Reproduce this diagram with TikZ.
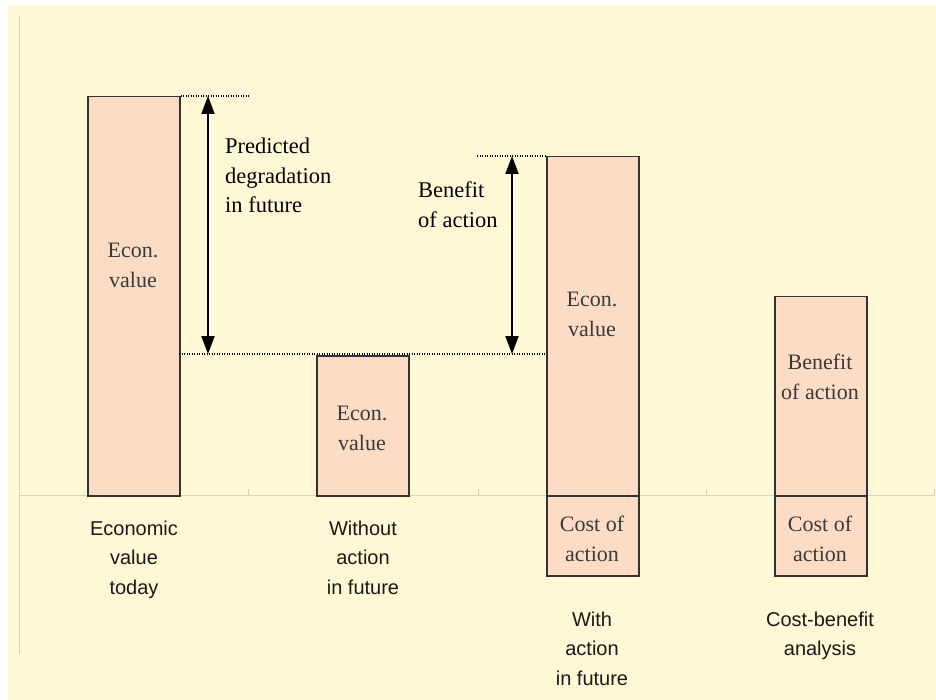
\documentclass[tikz,border=0pt]{standalone}
\usepackage{fontspec}
\setmainfont{Liberation Serif}
\setsansfont{Liberation Sans}
\usetikzlibrary{arrows.meta}
\definecolor{bgyellow}{HTML}{FFF9D6}
\definecolor{peach}{HTML}{FCDCC5}
\definecolor{barline}{HTML}{333333}
\definecolor{axisgray}{HTML}{D6D2BE}
\definecolor{boxtext}{HTML}{3A3A3A}
\tikzset{
  bar/.style={draw=barline, fill=peach, line width=1.5pt, inner sep=0pt, anchor=north west},
  axisline/.style={draw=axisgray, line width=1pt},
  dotline/.style={draw=black, line width=1.2pt, dash pattern=on 1.2pt off 1.3pt},
  dblarrow/.style={draw=black, line width=2pt, {Triangle[length=18pt,width=13pt]}-{Triangle[length=18pt,width=13pt]}},
  boxtxt/.style={font=\fontsize{22}{29.5}\selectfont, text=boxtext, align=center, inner sep=0pt, anchor=north},
  notetxt/.style={font=\fontsize{22.5}{29.5}\selectfont, text=black, align=left, inner sep=0pt, anchor=north west},
  cattxt/.style={font=\sffamily\fontsize{20}{29.5}\selectfont, text=black!90, align=center, inner sep=0pt, anchor=north}
}
\begin{document}
\begin{tikzpicture}[x=1pt, y=-1pt]
  % page and background
  \fill[white] (0,0) rectangle (936,700);
  \useasboundingbox (0,0) rectangle (936,700);
  \fill[bgyellow] (8,5) rectangle (936,700);
  % axes
  \coordinate (ytop) at (19.5,16);
  \coordinate (ybot) at (19.5,654);
  \coordinate (xl) at (19,495);
  \coordinate (xr) at (935,495);
  \path[axisline] (ytop) -- (ybot);
  \path[axisline] (xl) -- (xr);
  \foreach \tx [count=\i] in {248,478,706,934} {
    \coordinate (tk\i a) at (\tx,495);
    \coordinate (tk\i b) at (\tx,489);
    \path[axisline] (tk\i a) -- (tk\i b);
  }
  % bars
  \node[bar, minimum width=92pt, minimum height=399pt] (b1) at (87,96) {};
  \node[bar, minimum width=92pt, minimum height=140pt] (b2) at (316,355) {};
  \node[bar, minimum width=92pt, minimum height=339pt] (b3) at (546,156) {};
  \node[bar, minimum width=92pt, minimum height=80pt] (b3c) at (546,495) {};
  \node[bar, minimum width=92pt, minimum height=199pt] (b4) at (774,296) {};
  \node[bar, minimum width=92pt, minimum height=80pt] (b4c) at (774,495) {};
  % dotted guide lines
  \coordinate (d1e) at (250,96);
  \coordinate (d2s) at (179,354);
  \coordinate (d2e) at (546,354);
  \coordinate (d3s) at (477,156);
  \path[dotline] (b1.north east) -- (d1e);
  \path[dotline] (d2s) -- (d2e);
  \path[dotline] (d3s) -- (b3.north west);
  % double arrows
  \coordinate (a1t) at (208,96);
  \coordinate (a1b) at (208,354);
  \coordinate (a2t) at (512,156);
  \coordinate (a2b) at (512,354);
  \path[dblarrow] (a1t) -- (a1b);
  \path[dblarrow] (a2t) -- (a2b);
  % annotations
  \node[notetxt] (n1) at (225,133) {\strut Predicted\\degradation\\in future};
  \node[notetxt] (n2) at (418,177) {\strut Benefit\\of action};
  % texts in bars
  \node[boxtxt] (t1) at (133,237) {\strut Econ.\\value};
  \node[boxtxt] (t2) at (362,400) {\strut Econ.\\value};
  \node[boxtxt] (t3) at (592,286) {\strut Econ.\\value};
  \node[boxtxt] (t3c) at (592,511) {\strut Cost of\\action};
  \node[boxtxt] (t4) at (820,349) {\strut Benefit\\of action};
  \node[boxtxt] (t4c) at (820,511) {\strut Cost of\\action};
  % category labels
  \node[cattxt] (c1) at (134,514.5) {\strut Economic\\value\\today};
  \node[cattxt] (c2) at (363,514.5) {\strut Without\\action\\in future};
  \node[cattxt] (c3) at (592,605.5) {\strut With\\action\\in future};
  \node[cattxt] (c4) at (820,605.5) {\strut Cost-benefit\\analysis};
\end{tikzpicture}
\end{document}
